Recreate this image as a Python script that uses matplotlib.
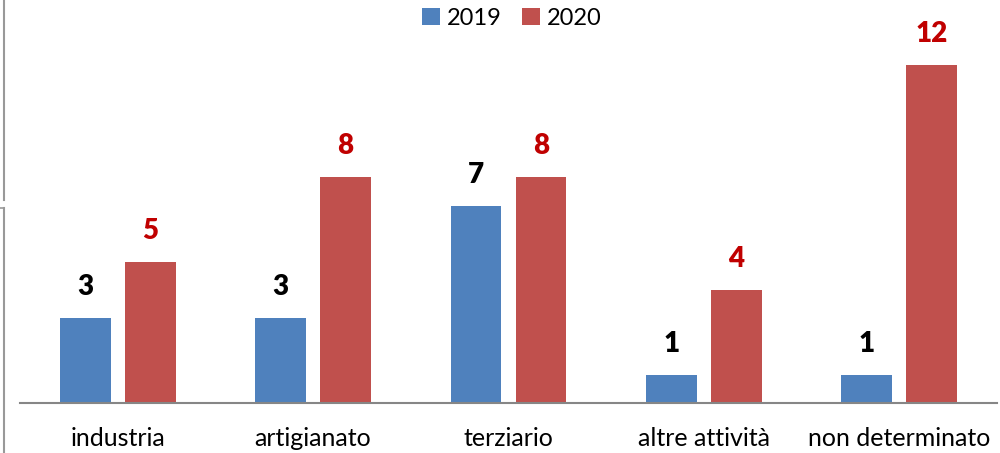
import numpy as np
import matplotlib.pyplot as plt
from matplotlib.lines import Line2D

categorie = ['industria', 'artigianato', 'terziario', 'altre attività', 'non determinato']
anni = ['2019', '2020']
valori_2019 = [3, 3, 7, 1, 1]
valori_2020 = [5, 8, 8, 4, 12]

plt.rcParams['font.family'] = ['Lato', 'DejaVu Sans']

blu = '#4F81BD'
rosso = '#C0504D'

fig = plt.figure(figsize=(10, 4.53), dpi=100)
ax = fig.add_axes([0.02, 50 / 453, 0.977, 403 / 453])

x = np.arange(len(categorie))
w = 0.26
off = 0.166
b1 = ax.bar(x - off, valori_2019, w, color=blu, label=anni[0])
b2 = ax.bar(x + off, valori_2020, w, color=rosso, label=anni[1])

for rect, v in zip(b1, valori_2019):
    ax.annotate(str(v), (rect.get_x() + rect.get_width() / 2, v), xytext=(0, 13),
                textcoords='offset points', ha='center', va='bottom',
                fontsize=20, fontweight='heavy', color='black')
for rect, v in zip(b2, valori_2020):
    ax.annotate(str(v), (rect.get_x() + rect.get_width() / 2, v), xytext=(0, 13),
                textcoords='offset points', ha='center', va='bottom',
                fontsize=20, fontweight='heavy', color='#C00000')

ax.set_xlim(-0.5, 4.5)
ax.set_ylim(0, 14.29)
ax.set_xticks(x)
ax.set_xticklabels(categorie, fontsize=18)
ax.tick_params(axis='x', length=0, pad=17)
ax.set_yticks([])
for s in ['top', 'right', 'left']:
    ax.spines[s].set_visible(False)
ax.spines['bottom'].set_color('#868686')
ax.spines['bottom'].set_linewidth(1.5)

fig.legend(handles=[b1, b2], labels=anni, loc='upper center', bbox_to_anchor=(0.512, 1.03),
           ncol=2, frameon=False, fontsize=17, handlelength=0.75, handleheight=0.75,
           handletextpad=0.3, columnspacing=0.85)

# bordi grigi sul lato sinistro
gr = '#999999'
fig.add_artist(Line2D([3.5 / 1000, 3.5 / 1000], [1, 1 - 200 / 453], color=gr, lw=1.5))
fig.add_artist(Line2D([0, 4 / 1000], [1 - 208 / 453, 1 - 208 / 453], color=gr, lw=1.2))
fig.add_artist(Line2D([3.5 / 1000, 3.5 / 1000], [1 - 208 / 453, 0], color=gr, lw=1.5))

fig.savefig('out.png', dpi=100)
